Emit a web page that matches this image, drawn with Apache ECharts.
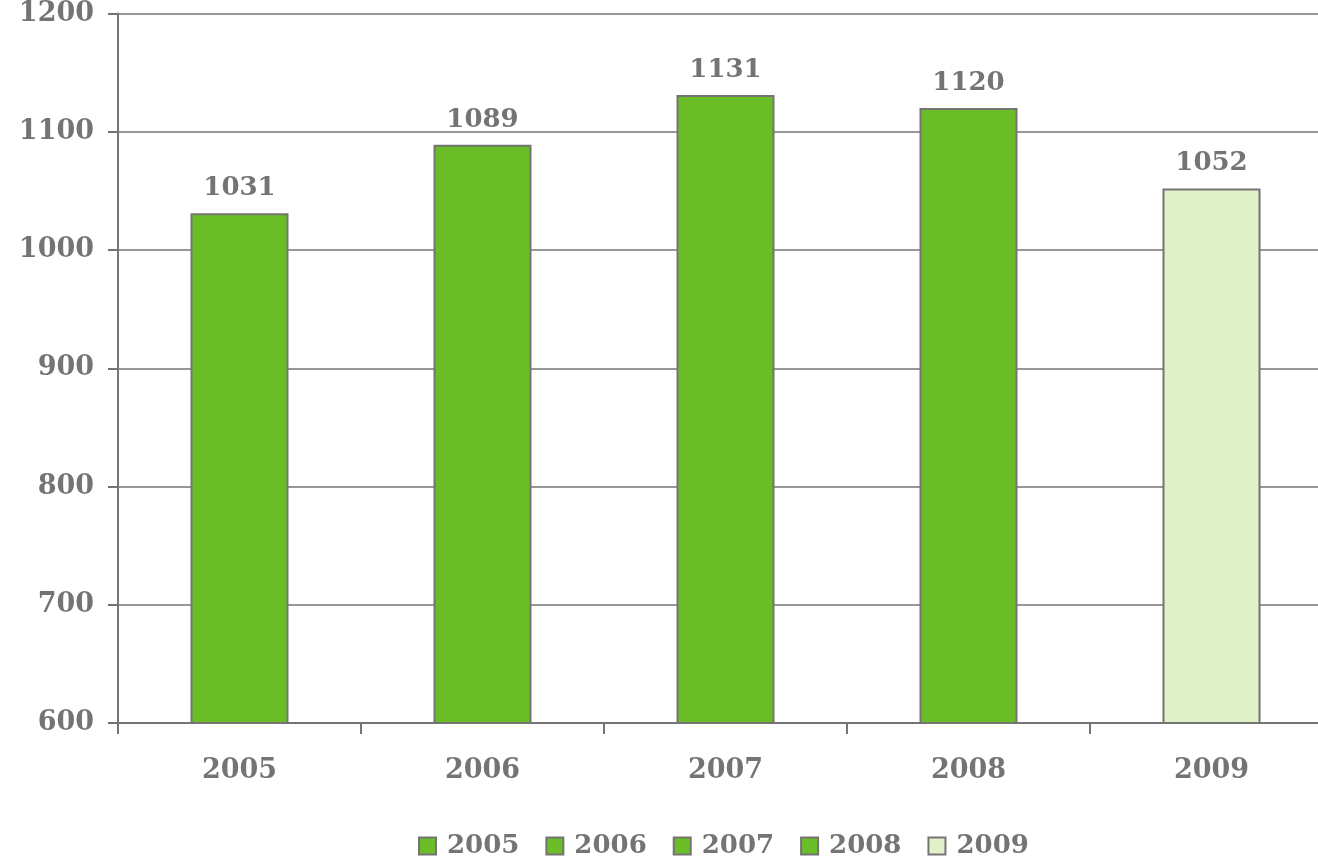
<!DOCTYPE html>
<html lang="en">
<head>
    <meta charset="utf-8">
    <title>Bar chart 2005-2009</title>
    <script src="https://cdn.jsdelivr.net/npm/echarts@6/dist/echarts.min.js"></script>
    <style type="text/css">
        html, body {
            width: 100%;
            height: 100%;
            margin: 0px;
            padding: 0px;
            background: #ffffff;
            overflow: hidden;
        }

        /* plot area runs past the right edge of the window, as in the original */
        #main {
            width: 1333px;
            height: 864px;
        }
    </style>
</head>
<body>
<div id="main"></div>
<script>
    // 数据
    var years = ['2005', '2006', '2007', '2008', '2009'];
    var values = [1031, 1089, 1131, 1120, 1052];
    var barColors = ['#6abd27', '#6abd27', '#6abd27', '#6abd27', '#e2f2c8'];

    var gray = '#747474';
    var font = '"DejaVu Serif", Georgia, serif';

    var myChart = echarts.init(document.getElementById('main'));

    // one series per year so every year shows up in the legend
    var series = [];
    for (let i = 0; i < years.length; i++) {
        let data = [];
        for (let j = 0; j < years.length; j++) {
            data.push(j === i ? values[i] : '-');
        }
        series.push({
            name: years[i],
            type: 'bar',
            data: data,
            barWidth: 98,
            barGap: '-100%',
            itemStyle: {
                color: barColors[i],
                borderColor: gray,
                borderWidth: 2
            },
            label: {
                show: true,
                position: 'top',
                distance: 12,
                color: gray,
                fontFamily: font,
                fontWeight: 'bold',
                fontSize: 26
            }
        });
    }

    let option = {
        animation: false,
        backgroundColor: '#ffffff',
        grid: {
            left: 118,
            top: 13,
            right: 0,
            bottom: 141
        },
        legend: {
            left: 413,
            top: 828,
            itemWidth: 17,
            itemHeight: 17,
            itemGap: 26,
            icon: 'rect',
            textStyle: {
                color: gray,
                fontFamily: font,
                fontWeight: 'bold',
                fontSize: 26,
                padding: [0, 0, 0, 6]
            },
            data: years
        },
        xAxis: {
            type: 'category',
            data: years,
            axisLine: {lineStyle: {color: gray, width: 2}},
            axisTick: {show: true, length: 11, lineStyle: {color: gray, width: 2}},
            axisLabel: {
                margin: 34,
                color: gray,
                fontFamily: font,
                fontWeight: 'bold',
                fontSize: 27
            }
        },
        yAxis: {
            type: 'value',
            min: 600,
            max: 1200,
            interval: 100,
            axisLine: {show: true, lineStyle: {color: gray, width: 2}},
            axisTick: {show: true, length: 10, lineStyle: {color: gray, width: 2}},
            splitLine: {show: true, lineStyle: {color: gray, width: 1.5}},
            axisLabel: {
                margin: 24,
                color: gray,
                fontFamily: font,
                fontWeight: 'bold',
                fontSize: 27,
                formatter: function (v) { return String(v); }
            }
        },
        series: series
    };

    myChart.setOption(option);
</script>
</body>
</html>
